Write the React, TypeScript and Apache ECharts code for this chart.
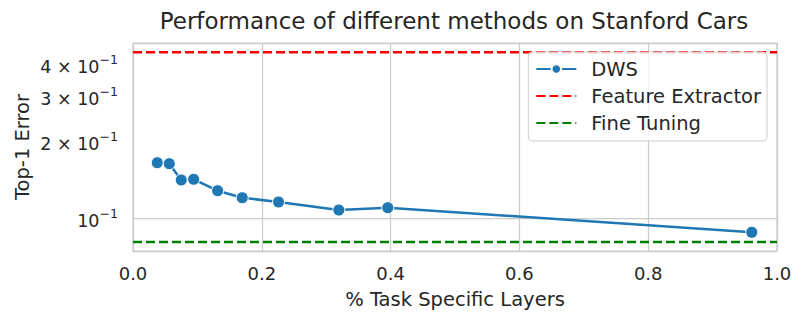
import React, { useEffect, useRef } from "react";
import * as echarts from "echarts";

const xDWS = [0.0377, 0.0563, 0.0749, 0.0942, 0.1314, 0.1696, 0.226, 0.3196, 0.3956, 0.9608];
const yDWS = [0.1655, 0.1641, 0.1417, 0.1426, 0.1287, 0.1208, 0.1162, 0.1081, 0.1104, 0.0885];
const featureExtractor = 0.447;
const fineTuning = 0.0811;
const xRange = [0, 1];
const yTickValues = [0.1, 0.2, 0.3, 0.4];

const FONT = "DejaVu Sans";
const TXT = "#262626";

export default function App() {
  const ref = useRef<HTMLDivElement>(null);
  useEffect(() => {
    const chart = echarts.init(ref.current!, null, { renderer: "svg" });
    chart.setOption({
      animation: false,
      textStyle: { fontFamily: FONT, color: TXT, fontSize: 18 },
      title: {
        text: "Performance of different methods on Stanford Cars",
        left: 449,
        textAlign: "center",
        top: 4,
        textStyle: { fontFamily: FONT, fontSize: 23, fontWeight: "normal", color: TXT },
      },
      grid: {
        left: 133,
        right: 29,
        top: 43,
        bottom: 73,
        outerBoundsMode: "none",
        containLabel: false,
        show: true,
        borderColor: "#cccccc",
        borderWidth: 1.25,
        backgroundColor: "#fff",
      },
      legend: {
        right: 39,
        top: 52,
        orient: "vertical",
        itemWidth: 40,
        itemHeight: 12,
        itemGap: 7,
        padding: [7, 6, 8, 7],
        backgroundColor: "rgba(255,255,255,0.8)",
        borderColor: "#cccccc",
        borderWidth: 1,
        borderRadius: 4,
        textStyle: { fontFamily: FONT, fontSize: 19.5, lineHeight: 20, color: TXT, padding: [0, 0, 0, 10] },
        data: [
          { name: "DWS" },
          { name: "Feature Extractor", itemStyle: { opacity: 0 } },
          { name: "Fine Tuning", itemStyle: { opacity: 0 } },
        ],
      },
      xAxis: {
        type: "value",
        min: xRange[0],
        max: xRange[1],
        interval: 0.2,
        name: "% Task Specific Layers",
        nameLocation: "middle",
        nameGap: 38,
        nameMoveOverlap: false,
        nameTextStyle: { fontFamily: FONT, fontSize: 19.5, color: TXT },
        axisLine: { show: false },
        axisTick: { show: false },
        axisLabel: {
          fontFamily: FONT,
          fontSize: 18,
          color: TXT,
          margin: 13,
          formatter: (v: number) => v.toFixed(1),
        },
        splitLine: { show: true, lineStyle: { color: "#cccccc", width: 1.25 } },
      },
      yAxis: {
        type: "log",
        logBase: 10,
        min: 0.0748,
        max: 0.486,
        name: "Top-1 Error",
        nameLocation: "middle",
        nameGap: 101,
        nameMoveOverlap: false,
        nameTextStyle: { fontFamily: FONT, fontSize: 19.5, color: TXT },
        axisLine: { show: false },
        axisTick: { show: false },
        axisLabel: {
          customValues: yTickValues,
          fontFamily: FONT,
          fontSize: 17.5,
          color: TXT,
          margin: 15,
          formatter: (v: number) => {
            const m = Math.round(v * 10);
            return m === 1 ? "{b|10}{s|−1}" : `{b|${m} × 10}{s|−1}`;
          },
          rich: {
            b: { fontFamily: FONT, fontSize: 17.5, color: TXT, verticalAlign: "bottom", padding: [5, 0, 0, 0] },
            s: { fontFamily: FONT, fontSize: 12.6, color: TXT, verticalAlign: "top" },
          },
        },
        splitLine: { show: true, lineStyle: { color: "#cccccc", width: 1.25 } },
      },
      series: [
        {
          name: "DWS",
          type: "line",
          data: xDWS.map((x, i) => [x, yDWS[i]]),
          color: "#1f77b4",
          lineStyle: { width: 2.5, color: "#1f77b4" },
          symbol: "circle",
          symbolSize: 12,
          itemStyle: { color: "#1f77b4", borderColor: "#fff", borderWidth: 1 },
          z: 4,
        },
        {
          name: "Feature Extractor",
          type: "line",
          data: [[xRange[0], featureExtractor], [xRange[1], featureExtractor]],
          color: "#ff0000",
          showSymbol: false,
          symbol: "none",
          lineStyle: { width: 2.5, color: "#ff0000", type: [9, 4] },
          z: 3,
        },
        {
          name: "Fine Tuning",
          type: "line",
          data: [[xRange[0], fineTuning], [xRange[1], fineTuning]],
          color: "#008000",
          showSymbol: false,
          symbol: "none",
          lineStyle: { width: 2.5, color: "#008000", type: [9, 4] },
          z: 3,
        },
      ],
    });
    return () => chart.dispose();
  }, []);
  return <div ref={ref} style={{ position: "absolute", left: 0, top: 0, width: 806, height: 324 }} />;
}
